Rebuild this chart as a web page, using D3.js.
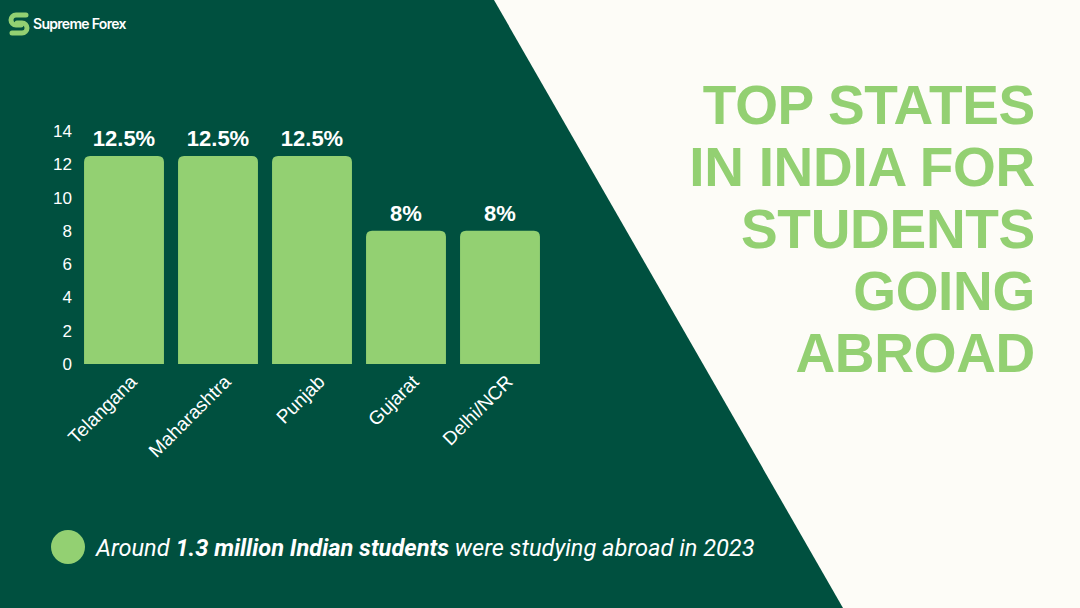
<!DOCTYPE html>
<html>
<head>
<meta charset="utf-8">
<script src="https://cdn.jsdelivr.net/npm/d3@7"></script>
<style>
  body { margin: 0; background: #fdfcf7; }
  svg { display: block; }
</style>
</head>
<body>
<svg id="chart" width="1080" height="608"></svg>
<script>
var states = ["Telangana", "Maharashtra", "Punjab", "Gujarat", "Delhi/NCR"];
var shares = [12.5, 12.5, 12.5, 8, 8];
var shareLabels = ["12.5%", "12.5%", "12.5%", "8%", "8%"];
var yTicks = [0, 2, 4, 6, 8, 10, 12, 14];
var titleLines = ["TOP STATES", "IN INDIA FOR", "STUDENTS", "GOING", "ABROAD"];

var dark = "#00503f", green = "#93d072", cream = "#fdfcf7";

var svg = d3.select("#chart");

// background split
svg.append("rect").attr("width", 1080).attr("height", 608).attr("fill", cream);
svg.append("path")
  .attr("d", "M0,0 L494,0 L843,608 L0,608 Z")
  .attr("fill", dark);

// logo
var logo = svg.append("g").attr("transform", "translate(19,24)");
logo.append("path")
  .attr("d", "M7,-9 L-3,-9 A5,5 0 0 0 -3,1 L2,1")
  .attr("fill", "none").attr("stroke", green).attr("stroke-width", 5).attr("stroke-linecap", "round");
logo.append("path")
  .attr("d", "M-7,9 L3,9 A5,5 0 0 0 3,-1 L-2,-1")
  .attr("fill", "none").attr("stroke", green).attr("stroke-width", 5).attr("stroke-linecap", "round");
svg.append("text")
  .attr("x", 33).attr("y", 29)
  .attr("fill", "#ffffff")
  .attr("font-family", "Inter, 'Liberation Sans', sans-serif")
  .attr("font-weight", 600)
  .attr("font-size", 14)
  .attr("letter-spacing", -0.7)
  .text("Supreme Forex");

// title
svg.append("g").selectAll("text")
  .data(titleLines).enter()
  .append("text")
  .attr("x", 1035)
  .attr("y", function (d, i) { return 124 + i * 62; })
  .attr("text-anchor", "end")
  .attr("fill", green)
  .attr("font-family", "'Liberation Sans', Arial, sans-serif")
  .attr("font-weight", "bold")
  .attr("font-size", 55)
  .attr("letter-spacing", -0.3)
  .text(function (d) { return d; });

// chart
var x = d3.scaleBand()
  .domain(states)
  .range([77, 547])
  .paddingInner(0.15)
  .paddingOuter(0.075);

var y = d3.scaleLinear()
  .domain([0, 14])
  .range([364, 131]);

var yAxis = svg.append("g")
  .attr("transform", "translate(72,0)")
  .call(d3.axisLeft(y).tickValues(yTicks).tickSize(0).tickPadding(0));
yAxis.select(".domain").remove();
yAxis.selectAll("text")
  .attr("fill", "#ffffff")
  .attr("font-family", "'Liberation Sans', Arial, sans-serif")
  .attr("font-size", 17);

var r = 6;
function barPath(d, i) {
  var x0 = x(states[i]), w = x.bandwidth();
  var top = y(d), bot = y(0);
  return "M" + x0 + "," + bot +
    "L" + x0 + "," + (top + r) +
    "Q" + x0 + "," + top + " " + (x0 + r) + "," + top +
    "L" + (x0 + w - r) + "," + top +
    "Q" + (x0 + w) + "," + top + " " + (x0 + w) + "," + (top + r) +
    "L" + (x0 + w) + "," + bot + "Z";
}

svg.append("g").selectAll("path")
  .data(shares).enter()
  .append("path")
  .attr("d", barPath)
  .attr("fill", green);

svg.append("g").selectAll("text")
  .data(shares).enter()
  .append("text")
  .attr("x", function (d, i) { return x(states[i]) + x.bandwidth() / 2; })
  .attr("y", function (d) { return y(d) - 10; })
  .attr("text-anchor", "middle")
  .attr("fill", "#ffffff")
  .attr("font-family", "'Liberation Sans', Arial, sans-serif")
  .attr("font-weight", "bold")
  .attr("font-size", 22)
  .text(function (d, i) { return shareLabels[i]; });

// x labels
svg.append("g").selectAll("text")
  .data(states).enter()
  .append("text")
  .attr("transform", function (d) {
    return "translate(" + (x(d) + x.bandwidth() / 2 + 14) + ",383) rotate(-45)";
  })
  .attr("text-anchor", "end")
  .attr("fill", "#ffffff")
  .attr("font-family", "'Liberation Sans', Arial, sans-serif")
  .attr("font-size", 19)
  .text(function (d) { return d; });

// note
svg.append("ellipse")
  .attr("cx", 68).attr("cy", 547)
  .attr("rx", 17).attr("ry", 17)
  .attr("fill", green);

var note = svg.append("text")
  .attr("x", 96).attr("y", 556)
  .attr("fill", "#ffffff")
  .attr("font-family", "Roboto, 'Open Sans', sans-serif")
  .attr("font-style", "italic")
  .attr("font-size", 23.6);
note.append("tspan").text("Around ");
note.append("tspan").attr("font-weight", "bold").text("1.3 million Indian students");
note.append("tspan").text(" were studying abroad in 2023");
</script>
</body>
</html>
